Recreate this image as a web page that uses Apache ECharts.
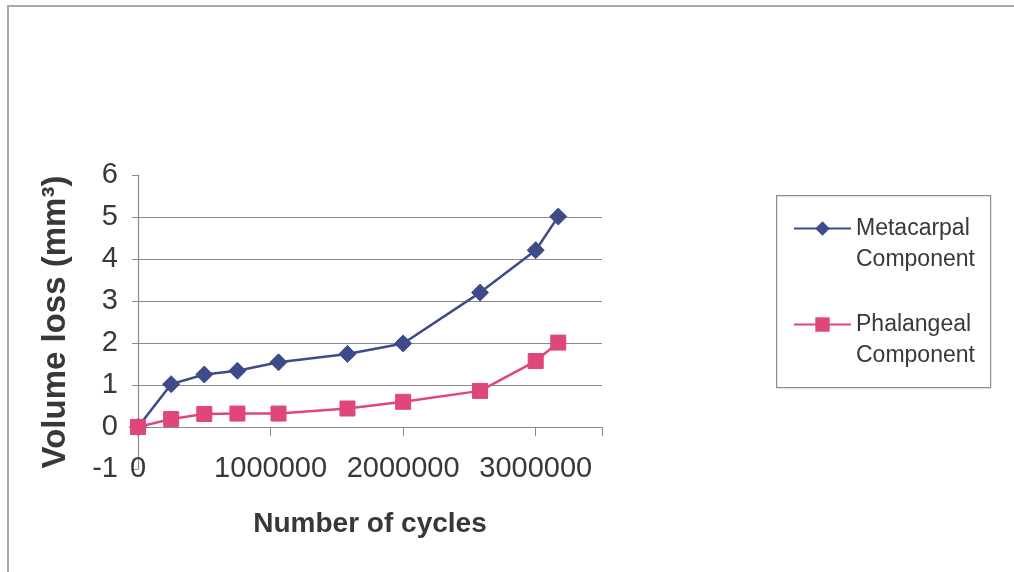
<!DOCTYPE html>
<html>
<head>
<meta charset="utf-8">
<script src="https://cdn.jsdelivr.net/npm/echarts@6/dist/echarts.min.js"></script>
<style>
html,body{margin:0;padding:0;background:#fff;}
#chart{width:1014px;height:572px;position:absolute;left:0;top:0;}
#frame{position:absolute;left:7px;top:5px;width:1100px;height:700px;border:2px solid #a8a8a8;box-sizing:border-box;pointer-events:none;}
</style>
</head>
<body>
<div id="chart"></div>
<div id="frame"></div>
<script>
var cycles = [0, 250000, 500000, 750000, 1060000, 1580000, 2000000, 2580000, 3000000, 3170000];
var metacarpal = [0, 1.02, 1.25, 1.34, 1.54, 1.74, 1.99, 3.20, 4.21, 5.01];
var phalangeal = [0, 0.19, 0.31, 0.32, 0.32, 0.44, 0.60, 0.86, 1.57, 2.01];
var seriesNames = ['Metacarpal\nComponent', 'Phalangeal\nComponent'];
var xTitle = 'Number of cycles';
var yTitle = 'Volume loss (mm\u00B3)';

function pairs(xs, ys){ return xs.map(function(x,i){ return [x, ys[i]]; }); }

var FONT = 'Liberation Sans, Arial, sans-serif';
var textColor = '#383838';
var axisGray = '#8a8a8a';
var chart = echarts.init(document.getElementById('chart'));
chart.setOption({
  animation: false,
  backgroundColor: 'transparent',
  grid: { left: 138, right: 412, top: 175, bottom: 103, containLabel: false },
  graphic: [{
    type: 'rect', left: 776, top: 195, z: 0,
    shape: { width: 214, height: 192 },
    style: { fill: '#fff', stroke: '#8a8a8a', lineWidth: 1.2 }
  }],
  legend: {
    orient: 'vertical',
    left: 793, top: 182,
    padding: 0,
    itemWidth: 57, itemHeight: 18, itemGap: 3,
    textStyle: { fontFamily: FONT, fontSize: 23, color: textColor, lineHeight: 31 },
    formatter: function(name){ return '\n' + name; },
    data: seriesNames
  },
  xAxis: [{
    type: 'value', min: 0, max: 3500000, interval: 1000000,
    axisLine: { onZero: true, lineStyle: { color: axisGray, width: 1.2 } },
    axisTick: { show: true, length: 9, lineStyle: { color: axisGray } },
    axisLabel: { show: false },
    splitLine: { show: false }
  }, {
    type: 'value', min: 0, max: 3500000, interval: 1000000, position: 'bottom',
    axisLine: { show: false, onZero: false },
    axisTick: { show: false },
    axisLabel: { show: true, margin: -15, fontFamily: FONT, fontSize: 29, color: textColor,
      formatter: function(v){ return String(v); } },
    splitLine: { show: false },
    name: xTitle, nameLocation: 'middle', nameGap: 41,
    nameTextStyle: { fontFamily: FONT, fontSize: 28, fontWeight: 'bold', color: textColor }
  }],
  yAxis: {
    type: 'value', min: -1, max: 6, interval: 1,
    axisLine: { show: true, onZero: false, lineStyle: { color: axisGray, width: 1.2 } },
    axisTick: { show: true, length: 6, lineStyle: { color: axisGray } },
    axisLabel: { margin: 20, fontFamily: FONT, fontSize: 29, color: textColor },
    splitLine: { show: true, showMinLine: false, showMaxLine: false, lineStyle: { color: axisGray, width: 1.2 } },
    name: yTitle, nameLocation: 'middle', nameGap: 66, nameRotate: 90,
    nameTextStyle: { fontFamily: FONT, fontSize: 33, fontWeight: 'bold', color: textColor }
  },
  series: [{
    name: seriesNames[0], type: 'line', xAxisIndex: 0,
    data: pairs(cycles, metacarpal),
    symbol: 'diamond', symbolSize: 17,
    lineStyle: { color: '#3f4a88', width: 2.5 },
    itemStyle: { color: '#3f4a88', borderColor: '#3f4a88' }
  }, {
    name: seriesNames[1], type: 'line', xAxisIndex: 0,
    data: pairs(cycles, phalangeal),
    symbol: 'rect', symbolSize: 15,
    lineStyle: { color: '#df467a', width: 2.5 },
    itemStyle: { color: '#df467a', borderColor: '#df467a' }
  }]
});
</script>
</body>
</html>
